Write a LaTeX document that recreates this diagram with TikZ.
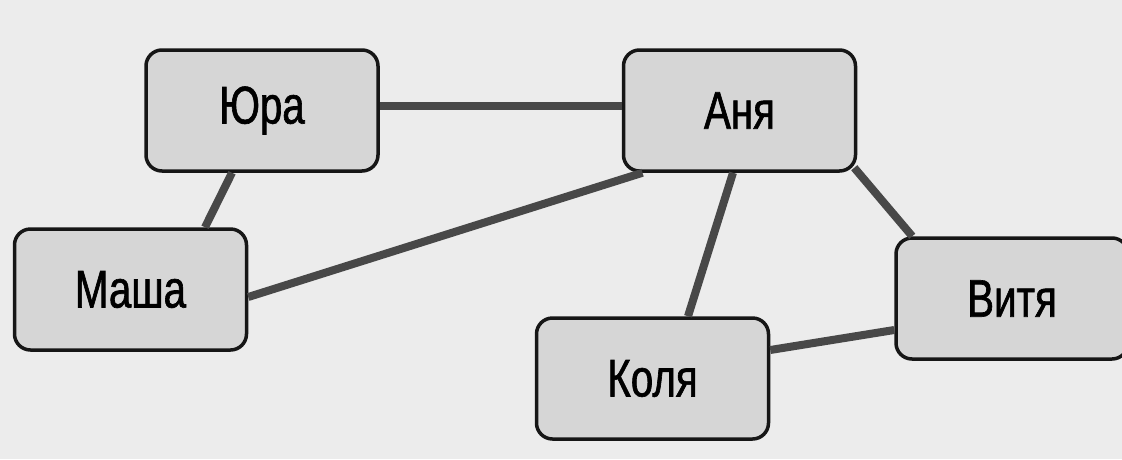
\documentclass[tikz,border=0pt]{standalone}
\usepackage{fontspec}
\setmainfont{Liberation Sans}[FakeStretch=0.76,FakeBold=1.2]
\usetikzlibrary{calc}
\definecolor{bgcol}{RGB}{236,236,236}
\definecolor{boxfill}{RGB}{214,214,214}
\definecolor{boxline}{RGB}{22,22,22}
\definecolor{edgecol}{RGB}{72,72,72}
\tikzset{
  person/.style={draw=boxline, fill=boxfill, line width=3.5pt, rounded corners=16pt,
    minimum width=232pt, minimum height=121pt, inner sep=0pt,
    font=\fontsize{53}{60}\selectfont},
  link/.style={draw=edgecol, line width=8pt, line cap=butt}
}
\begin{document}
\begin{tikzpicture}[x=1pt,y=-1pt]
\useasboundingbox (0,0) rectangle (1122,459);
\clip (0,0) rectangle (1122,459);
\fill[bgcol] (0,0) rectangle (1122,459);
\node[person] (yura)  at (262,110.5) {Юра};
\node[person] (anya)  at (739.5,110.5) {Аня};
\node[person] (masha) at (130.5,289.5) {Маша};
\node[person] (kolya) at (652.5,378.5) {Коля};
\node[person] (vitya) at (1012,298.5) {Витя};
\draw[link] ($(yura.east)+(0,-4.5)$) -- ($(anya.west)+(0,-4.5)$);
\draw[link] ($(yura.south)+(-30,0)$) -- ($(masha.north)+(74.5,0)$);
\draw[link] ($(masha.east)+(0,7.5)$) -- ($(anya.south)+(-97,0)$);
\draw[link] ($(anya.south)+(-6.5,0)$) -- ($(kolya.north)+(35.5,0)$);
\draw[link] ($(anya.south east)+(-3,-5)$) -- ($(vitya.north west)+(18,0)$);
\draw[link] ($(kolya.east)+(0,-28.5)$) -- ($(vitya.west)+(0,31.5)$);
\end{tikzpicture}
\end{document}
